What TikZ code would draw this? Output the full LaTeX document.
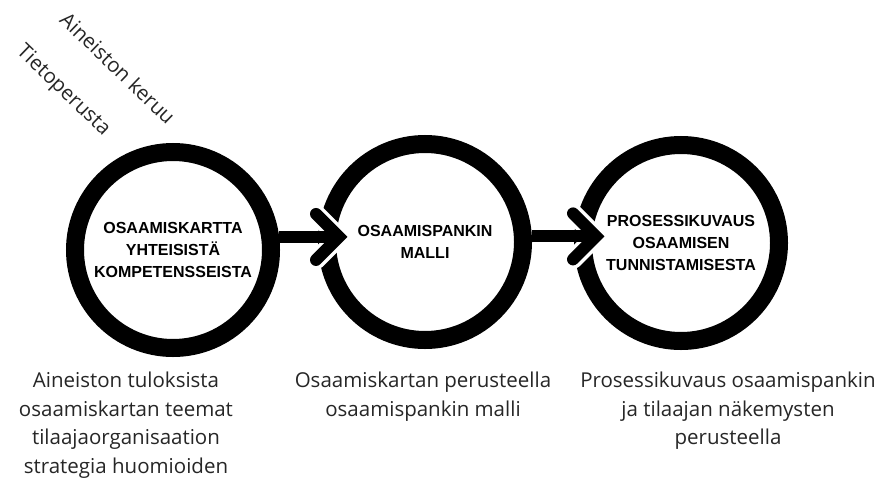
\documentclass[tikz,border=0pt]{standalone}
\usepackage{fontspec}
\setmainfont{Open Sans}
\newfontfamily\capsfont{Liberation Sans}
\usepackage{tikz}
\usetikzlibrary{calc}
\tikzset{
    stage/.style={circle, draw, fill=white, line width=18pt, minimum size=196pt,
    	inner sep=0pt, align=center, font=\capsfont\bfseries\fontsize{16}{22}\selectfont}
}
\tikzset{
    note/.style={anchor=north, inner sep=0pt, align=center, text=black!85,
    	font=\fontsize{20.5}{28.5}\selectfont},
    tilt/.style={rotate=-44, inner sep=0pt, text=black!85,
    	font=\fontsize{20.5}{24}\selectfont}
}
\tikzset{
    bar/.style={line width=12pt},
    barb/.style={line width=12pt, line cap=round, line join=miter},
    halo/.style={white, line width=19pt, line cap=round, line join=miter}
}

\begin{document}
\begin{tikzpicture}[x=1pt, y=-1pt]
	\useasboundingbox (0, 0) rectangle (882, 484);
	\node (kartta) [stage] at (173, 250) {OSAAMISKARTTA\\YHTEISIST\"A\\KOMPETENSSEISTA};
	\node (malli) [stage] at (425, 242) {OSAAMISPANKIN\\MALLI};
	\node (kuvaus) [stage] at (681, 243) {PROSESSIKUVAUS\\OSAAMISEN\\TUNNISTAMISESTA};

	\node (keruu) [tilt] at (118, 68) {Aineiston keruu};
	\node (perusta) [tilt] at (63, 91) {Tietoperusta};

	\node (n1) [note] at (126, 372) {Aineiston tuloksista\\osaamiskartan teemat\\tilaajaorganisaation\\strategia huomioiden};
	\node (n2) [note] at (423, 372) {Osaamiskartan perusteella\\osaamispankin malli};
	\node (n3) [note] at (728, 372) {Prosessikuvaus osaamispankin\\ja tilaajan n\"akemysten\\perusteella};

	% arrows: bar + chevron with white halo
	\path (malli.west) ++(21, 0) coordinate (w1);
	\coordinate (k1) at (w1 |- kartta.7);
	\path (kuvaus.west) ++(22, 0) coordinate (w2);
	\coordinate (k2) at (w2 |- malli.3);

	\draw [halo] ($(k1)+(-23,-23)$) -- (k1) -- ($(k1)+(-23,23)$);
	\draw [bar] (kartta.7) -- ($(k1)+(-6,0)$);
	\draw [barb] ($(k1)+(-23,-23)$) -- (k1) -- ($(k1)+(-23,23)$);

	\draw [halo] ($(k2)+(-23,-23)$) -- (k2) -- ($(k2)+(-23,23)$);
	\draw [bar] (malli.3) -- ($(k2)+(-6,0)$);
	\draw [barb] ($(k2)+(-23,-23)$) -- (k2) -- ($(k2)+(-23,23)$);
\end{tikzpicture}
\end{document}
